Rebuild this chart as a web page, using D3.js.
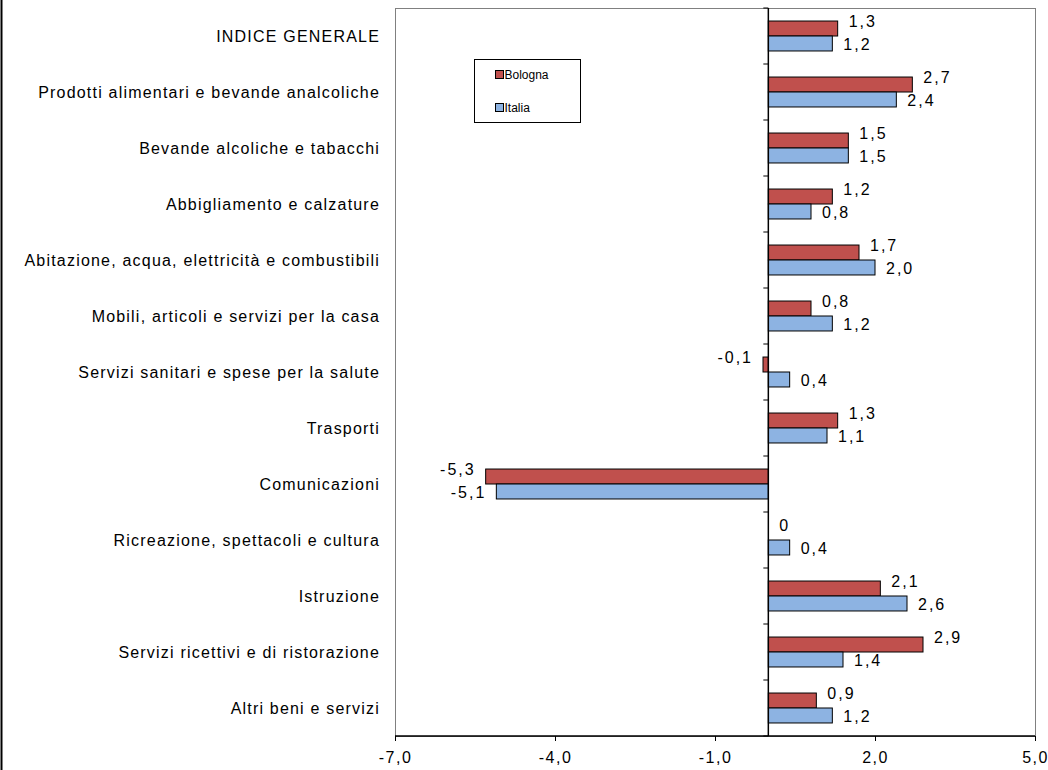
<!DOCTYPE html>
<html>
<head>
<meta charset="utf-8">
<script src="https://cdn.jsdelivr.net/npm/d3@7"></script>
<style>
  body { margin: 0; background: #fff; }
  #chart { width: 1048px; height: 770px; }
  text { font-family: "Liberation Sans", Arial, sans-serif; }
</style>
</head>
<body>
<div id="chart"></div>
<script>
// Data
const categories = [
    'INDICE GENERALE',
    'Prodotti alimentari e bevande analcoliche',
    'Bevande alcoliche e tabacchi',
    'Abbigliamento e calzature',
    'Abitazione, acqua, elettricità e combustibili',
    'Mobili, articoli e servizi per la casa',
    'Servizi sanitari e spese per la salute',
    'Trasporti',
    'Comunicazioni',
    'Ricreazione, spettacoli e cultura',
    'Istruzione',
    'Servizi ricettivi e di ristorazione',
    'Altri beni e servizi'
];
const bologna = [1.3, 2.7, 1.5, 1.2, 1.7, 0.8, -0.1, 1.3, -5.3, 0, 2.1, 2.9, 0.9];
const italia = [1.2, 2.4, 1.5, 0.8, 2.0, 1.2, 0.4, 1.1, -5.1, 0.4, 2.6, 1.4, 1.2];
const seriesNames = ['Bologna', 'Italia'];
const xTicks = [-7, -4, -1, 2, 5];

const colors = { Bologna: '#C0504D', Italia: '#8DB3E2' };

const W = 1048, H = 770;
const plot = { left: 395, right: 1035, top: 8, bottom: 736 };

const svg = d3.select('#chart')
    .append('svg')
    .attr('width', W)
    .attr('height', H);

// outer left border of chart area
svg.append('line')
    .attr('x1', 1.5).attr('x2', 1.5)
    .attr('y1', 0).attr('y2', H)
    .attr('stroke', '#000')
    .attr('stroke-width', 2);

const x = d3.scaleLinear()
    .domain([-7, 5])
    .range([plot.left, plot.right]);

const y = d3.scaleBand()
    .domain(categories)
    .range([plot.top, plot.bottom]);

const ySub = d3.scaleBand()
    .domain(seriesNames)
    .range([0, y.bandwidth()])
    .paddingInner(0)
    .paddingOuter(0.87);

// plot area frame (grey)
svg.append('rect')
    .attr('x', plot.left + 0.5)
    .attr('y', plot.top + 0.5)
    .attr('width', plot.right - plot.left)
    .attr('height', plot.bottom - plot.top)
    .attr('fill', 'none')
    .attr('stroke', '#808080')
    .attr('stroke-width', 1);

// bars
const rows = categories.map((c, i) => ({ cat: c, Bologna: bologna[i], Italia: italia[i] }));

const groups = svg.selectAll('.grp')
    .data(rows)
    .enter()
    .append('g')
    .attr('class', 'grp')
    .attr('transform', d => `translate(0,${y(d.cat)})`);

groups.selectAll('rect')
    .data(d => seriesNames.map(s => ({ key: s, value: d[s] })))
    .enter()
    .append('rect')
    .attr('x', d => Math.min(x(0), x(d.value)))
    .attr('y', d => ySub(d.key))
    .attr('width', d => Math.abs(x(d.value) - x(0)))
    .attr('height', ySub.bandwidth())
    .attr('fill', d => colors[d.key])
    .attr('stroke', '#000')
    .attr('stroke-width', 1);

// value labels (italian decimal comma, plain hyphen for minus)
const fmt = v => v === 0 ? '0' : d3.format('.1f')(v).replace('.', ',').replace('\u2212', '-');

groups.selectAll('.val')
    .data(d => seriesNames.map(s => ({ key: s, value: d[s] })))
    .enter()
    .append('text')
    .attr('class', 'val')
    .attr('x', d => d.value < 0 ? x(d.value) - 10 : x(d.value) + 11)
    .attr('y', d => ySub(d.key) + ySub.bandwidth() / 2 + (d.key === 'Bologna' ? -2 : 7))
    .attr('text-anchor', d => d.value < 0 ? 'end' : 'start')
    .attr('font-size', '16px')
    .attr('letter-spacing', '2px')
    .attr('fill', '#000')
    .text(d => fmt(d.value));

// y axis at zero with category separators
const yAxis = svg.append('g')
    .attr('transform', `translate(${x(0)},0)`);
yAxis.append('line')
    .attr('y1', plot.top).attr('y2', plot.bottom)
    .attr('stroke', '#000').attr('stroke-width', 1.5);
yAxis.selectAll('.sep')
    .data(categories.concat(['__end']))
    .enter()
    .append('line')
    .attr('x1', -5).attr('x2', 0)
    .attr('y1', (d, i) => plot.top + i * y.step())
    .attr('y2', (d, i) => plot.top + i * y.step())
    .attr('stroke', '#000');

// category labels
svg.selectAll('.cat')
    .data(categories)
    .enter()
    .append('text')
    .attr('class', 'cat')
    .attr('x', 380)
    .attr('y', d => y(d) + y.bandwidth() / 2 + 6)
    .attr('text-anchor', 'end')
    .attr('font-size', '16px')
    .attr('letter-spacing', '1.2px')
    .attr('fill', '#000')
    .text(d => d);

// x axis
const xAxis = svg.append('g')
    .attr('transform', `translate(0,${plot.bottom})`)
    .call(d3.axisBottom(x)
        .tickValues(xTicks)
        .tickSize(5)
        .tickFormat(d => d3.format('.1f')(d).replace('.', ',').replace('\u2212', '-')));
xAxis.select('.domain')
    .attr('stroke', '#000')
    .attr('stroke-width', 1.5)
    .attr('d', `M${plot.left},0H${plot.right}`);
xAxis.selectAll('.tick line').attr('stroke', '#000');
xAxis.selectAll('.tick text')
    .attr('font-size', '16px')
    .attr('letter-spacing', '1.5px')
    .attr('font-family', '"Liberation Sans", Arial, sans-serif')
    .attr('fill', '#000')
    .attr('y', 27)
    .attr('dy', 0);

// legend
const legend = svg.append('g').attr('transform', 'translate(474.5,59.5)');
legend.append('rect')
    .attr('width', 106).attr('height', 63)
    .attr('fill', '#fff').attr('stroke', '#000');
seriesNames.forEach((s, i) => {
    const ly = 15 + i * 33;
    legend.append('rect')
        .attr('x', 21).attr('y', ly - 4)
        .attr('width', 8).attr('height', 8)
        .attr('fill', colors[s]).attr('stroke', '#000');
    legend.append('text')
        .attr('x', 30).attr('y', ly + 4.5)
        .attr('font-size', '12px')
        .attr('fill', '#000')
        .text(s);
});
</script>
</body>
</html>
